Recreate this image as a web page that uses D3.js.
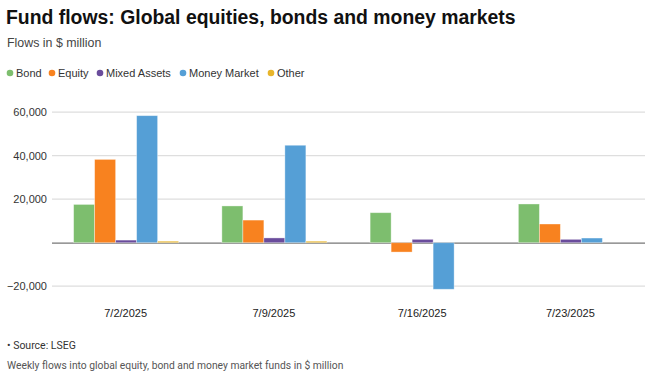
<!DOCTYPE html>
<html><head><meta charset="utf-8">
<script src="https://cdn.jsdelivr.net/npm/d3@7/dist/d3.min.js"></script>
<style>body{margin:0;background:#fff}svg{display:block}</style>
</head><body>
<script>
const categories = ["7/2/2025", "7/9/2025", "7/16/2025", "7/23/2025"];
const seriesNames = ["Bond", "Equity", "Mixed Assets", "Money Market", "Other"];
const bond = [17600, 16900, 13800, 17800];
const equity = [38300, 10400, -4300, 8600];
const mixed = [1200, 2200, 1550, 1550];
const moneyMarket = [58400, 44800, -21400, 2150];
const other = [700, 700, 0, 0];
const yTicks = [-20000, 0, 20000, 40000, 60000];
const colors = ["#7dbe6e", "#f8821f", "#6a4c9c", "#559fd6", "#e8b52a"];

const seriesValues = [bond, equity, mixed, moneyMarket, other];
const W = 645, H = 377;
const svg = d3.select("body").append("svg").attr("width", W).attr("height", H);
const font = "'Liberation Sans', Arial, Helvetica, sans-serif";

svg.append("text").attr("x", 6).attr("y", 24).text("Fund flows: Global equities, bonds and money markets")
  .attr("font-family", font).attr("font-weight", "bold").attr("font-size", 19.4).attr("fill", "#111");
svg.append("text").attr("x", 7).attr("y", 47).text("Flows in $ million")
  .attr("font-family", font).attr("font-size", 12.4).attr("fill", "#444");

// legend
const legendX = [10, 52, 100, 183, 271];
const lg = svg.append("g");
seriesNames.forEach((s, i) => {
  lg.append("circle").attr("cx", legendX[i]).attr("cy", 73).attr("r", 3.3).attr("fill", colors[i]);
  lg.append("text").attr("x", legendX[i] + 6).attr("y", 77).text(s)
    .attr("font-family", font).attr("font-size", 11).attr("fill", "#333");
});

const x0 = d3.scaleBand().domain(categories).range([52, 645]).padding(0);
const x1 = d3.scaleBand().domain(seriesNames).range([0, x0.bandwidth()]).paddingInner(0).paddingOuter(1.03);
const y = d3.scaleLinear().domain([-25000, 65000]).range([297.1, 101.3]);

// gridlines
svg.append("g").selectAll("line").data(yTicks.filter(d => d !== 0)).join("line")
  .attr("x1", 52).attr("x2", 645).attr("y1", d => y(d)).attr("y2", d => y(d))
  .attr("stroke", "#dedede").attr("stroke-width", 1.2);

// y tick labels
svg.append("g").selectAll("text").data(yTicks).join("text")
  .attr("x", 47).attr("y", d => y(d) + 4).attr("text-anchor", "end")
  .text(d => d === 0 ? "" : d3.format(",")(d))
  .attr("font-family", font).attr("font-size", 11).attr("fill", "#333");

// zero line
svg.append("line").attr("x1", 52).attr("x2", 645).attr("y1", y(0) + 0.5).attr("y2", y(0) + 0.5)
  .attr("stroke", "#777").attr("stroke-width", 1.2);

// bars
const data = [];
categories.forEach((c, ci) => seriesNames.forEach((s, si) => data.push({c, s, si, v: seriesValues[si][ci]})));
svg.append("g").selectAll("rect").data(data.filter(d => d.v !== 0)).join("rect")
  .attr("x", d => x0(d.c) + x1(d.s))
  .attr("width", x1.bandwidth())
  .attr("y", d => Math.min(y(d.v), y(0)))
  .attr("height", d => Math.abs(y(d.v) - y(0)))
  .attr("fill", d => colors[d.si])
  .attr("stroke", "rgba(255,255,255,0.45)").attr("stroke-width", 0.8);

// x labels
svg.append("g").selectAll("text").data(categories).join("text")
  .attr("x", d => x0(d) + x0.bandwidth() / 2 - 0.5).attr("y", 317).attr("text-anchor", "middle").text(d => d)
  .attr("font-family", font).attr("font-size", 11).attr("fill", "#222");

svg.append("text").attr("x", 7).attr("y", 349).text("• Source: LSEG")
  .attr("font-family", "Roboto, sans-serif").attr("font-size", 10.5).attr("fill", "#333");
svg.append("text").attr("x", 7).attr("y", 369).text("Weekly flows into global equity, bond and money market funds in $ million")
  .attr("font-family", "Roboto, sans-serif").attr("font-size", 10.3).attr("fill", "#555");
</script>
</body></html>
